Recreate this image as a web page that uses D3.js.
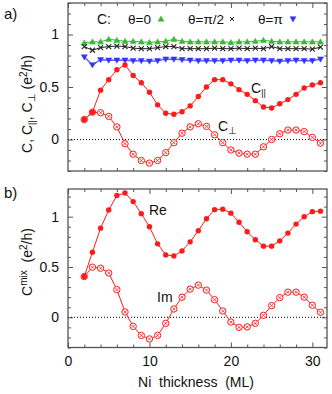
<!DOCTYPE html>
<html>
<head>
<meta charset="utf-8">
<script src="https://cdn.jsdelivr.net/npm/d3@7/dist/d3.min.js"></script>
<style>
  body { margin: 0; background: #fff; }
  svg text { font-family: "Liberation Sans", Arial, sans-serif; fill: #111; white-space: pre; }
</style>
</head>
<body>
<svg id="fig" width="332" height="394"></svg>
<script>
// Ni thickness (ML)
var thickness = [2,3,4,5,6,7,8,9,10,11,12,13,14,15,16,17,18,19,20,21,22,23,24,25,26,27,28,29,30,31];

// panel a) total conductance C for three angles
var cTheta0  = [0.92,0.93,0.93,0.955,0.945,0.935,0.935,0.93,0.925,0.93,0.935,0.955,0.935,0.93,0.93,0.93,0.93,0.93,0.925,0.93,0.93,0.935,0.945,0.935,0.93,0.93,0.93,0.93,0.93,0.93];
var cThetaHalf = [0.885,0.85,0.875,0.885,0.89,0.885,0.87,0.865,0.865,0.875,0.885,0.885,0.865,0.865,0.865,0.865,0.87,0.865,0.865,0.87,0.865,0.87,0.865,0.885,0.865,0.865,0.865,0.865,0.86,0.88];
var cThetaPi = [0.785,0.71,0.76,0.755,0.755,0.755,0.75,0.75,0.745,0.75,0.765,0.765,0.76,0.755,0.75,0.75,0.75,0.75,0.755,0.755,0.75,0.755,0.755,0.75,0.745,0.75,0.755,0.75,0.75,0.765];
// C parallel / C perpendicular
var cPar  = [0.19,0.26,0.47,0.57,0.665,0.71,0.61,0.54,0.45,0.33,0.25,0.24,0.265,0.32,0.41,0.50,0.57,0.57,0.53,0.475,0.43,0.37,0.31,0.30,0.34,0.38,0.43,0.49,0.52,0.54];
var cPerp = [0.19,0.26,0.255,0.22,0.12,-0.04,-0.14,-0.20,-0.225,-0.20,-0.125,-0.03,0.06,0.12,0.15,0.125,0.045,-0.03,-0.10,-0.13,-0.14,-0.14,-0.07,0.0,0.055,0.09,0.09,0.075,0.02,-0.035];

// panel b) mixing conductance
var mixRe = [0.405,0.647,0.886,1.066,1.21,1.235,1.15,1.03,0.90,0.73,0.62,0.61,0.66,0.75,0.86,0.98,1.07,1.075,1.035,0.945,0.85,0.77,0.707,0.707,0.76,0.837,0.926,1.0,1.05,1.055];
var mixIm = [0.405,0.498,0.488,0.44,0.275,0.053,-0.09,-0.18,-0.215,-0.18,-0.06,0.083,0.20,0.28,0.32,0.27,0.175,0.063,-0.047,-0.10,-0.095,-0.06,0.02,0.116,0.195,0.25,0.25,0.20,0.12,0.05];

var xTickLabels = [0,10,20,30];
var xMinorTicks = [2,4,6,8,12,14,16,18,22,24,26,28];
var yTickLabels = [0,0.5,1];
var yTickText = ["0","0.5","1"];

var RED = "#ff1a1a", GREEN = "#33bb33", BLUE = "#3333ff", BLACK = "#222";

var svg = d3.select("#fig");
var left = 68, right = 327;

var x = d3.scaleLinear().domain([0, 31.8]).range([left, right]);

function panel(top, bottom, yTop) {
  var y = d3.scaleLinear().domain([-0.3, yTop]).range([bottom, top]);
  var g = svg.append("g");
  var minor = d3.range(-3, Math.floor(yTop * 10) + 1).map(function (d) { return d / 10; })
    .filter(function (d) { return yTickLabels.indexOf(Math.round(d * 10) / 10) < 0; });

  // minor ticks, all four sides, pointing in
  g.append("g").attr("transform", "translate(" + left + ",0)")
    .call(d3.axisLeft(y).tickValues(minor).tickSize(-3).tickFormat(""));
  g.append("g").attr("transform", "translate(" + right + ",0)")
    .call(d3.axisRight(y).tickValues(minor).tickSize(-3).tickFormat(""));
  g.append("g").attr("transform", "translate(0," + bottom + ")")
    .call(d3.axisBottom(x).tickValues(xMinorTicks).tickSize(-3).tickFormat(""));
  g.append("g").attr("transform", "translate(0," + top + ")")
    .call(d3.axisTop(x).tickValues(xMinorTicks).tickSize(-3).tickFormat(""));
  // major ticks
  g.append("g").attr("class", "ylab").attr("transform", "translate(" + left + ",0)")
    .call(d3.axisLeft(y).tickValues(yTickLabels).tickSize(-5).tickPadding(9)
      .tickFormat(function (d, i) { return yTickText[i]; }));
  g.append("g").attr("transform", "translate(" + right + ",0)")
    .call(d3.axisRight(y).tickValues(yTickLabels).tickSize(-5).tickFormat(""));
  g.append("g").attr("transform", "translate(0," + top + ")")
    .call(d3.axisTop(x).tickValues(xTickLabels).tickSize(-5).tickFormat(""));

  g.selectAll(".domain").remove();
  g.selectAll(".tick line").attr("stroke", "#555").attr("stroke-width", 1);
  g.selectAll(".tick text").attr("font-size", 14).attr("fill", "#111")
    .style("font-family", '"Liberation Sans", Arial, sans-serif');

  // zero line
  g.append("line").attr("x1", left).attr("x2", right)
    .attr("y1", y(0)).attr("y2", y(0))
    .attr("stroke", "#000").attr("stroke-width", 1).attr("stroke-dasharray", "1,2");

  return { g: g, y: y, top: top, bottom: bottom };
}

function frame(p) {
  p.g.append("rect").attr("x", left).attr("y", p.top)
    .attr("width", right - left).attr("height", p.bottom - p.top)
    .attr("fill", "none").attr("stroke", "#555").attr("stroke-width", 1.3);
}

function lineOf(p, vals, color, w) {
  var ln = d3.line().x(function (d, i) { return x(thickness[i]); })
    .y(function (d) { return p.y(d); });
  p.g.append("path").datum(vals).attr("d", ln)
    .attr("fill", "none").attr("stroke", color).attr("stroke-width", w || 1);
}

function filledDots(p, vals, color) {
  p.g.append("g").selectAll("circle").data(vals).join("circle")
    .attr("cx", function (d, i) { return x(thickness[i]); })
    .attr("cy", function (d) { return p.y(d); })
    .attr("r", 2.7).attr("fill", color);
}

function openDots(p, vals, color) {
  var gg = p.g.append("g").selectAll("g").data(vals).join("g")
    .attr("transform", function (d, i) { return "translate(" + x(thickness[i]) + "," + p.y(d) + ")"; });
  gg.append("circle").attr("r", 3.2).attr("fill", "#fff")
    .attr("stroke", color).attr("stroke-width", 1);
  gg.append("path").attr("d", "M-1.5,-1.5L1.5,1.5M-1.5,1.5L1.5,-1.5")
    .attr("stroke", color).attr("stroke-width", 0.8);
}

function triUp(size) { return "M0," + (-size) + "L" + size + "," + (size * 0.75) + "L" + (-size) + "," + (size * 0.75) + "Z"; }
function triDown(size) { return "M0," + size + "L" + size + "," + (-size * 0.75) + "L" + (-size) + "," + (-size * 0.75) + "Z"; }
var crossPath = "M-2.5,-2.5L2.5,2.5M-2.5,2.5L2.5,-2.5";

function markers(p, vals, path, color, filled) {
  p.g.append("g").selectAll("path").data(vals).join("path")
    .attr("transform", function (d, i) { return "translate(" + x(thickness[i]) + "," + p.y(d) + ")"; })
    .attr("d", path)
    .attr("fill", filled ? color : "none")
    .attr("stroke", color).attr("stroke-width", filled ? 0.5 : 1.1);
}

/* ---------- panel a ---------- */
var pa = panel(3, 171, 1.3);
lineOf(pa, cTheta0, GREEN);
markers(pa, cTheta0, triUp(3), GREEN, true);
lineOf(pa, cThetaHalf, BLACK);
markers(pa, cThetaHalf, crossPath, BLACK, false);
lineOf(pa, cThetaPi, "#5a5aff", 1.4);
markers(pa, cThetaPi, triDown(3), BLUE, true);
lineOf(pa, cPerp, RED);
openDots(pa, cPerp, RED);
lineOf(pa, cPar, RED);
filledDots(pa, cPar, RED);
frame(pa);

// legend
var lg = pa.g.append("g");
lg.append("text").attr("x", 97).attr("y", 24).attr("font-size", 14).text("C:");
lg.append("text").attr("x", 128).attr("y", 24).attr("font-size", 13.5).text("θ=0");
lg.append("path").attr("transform", "translate(161,19)").attr("d", triUp(3)).attr("fill", GREEN).attr("stroke", GREEN).attr("stroke-width", 0.5);
lg.append("text").attr("x", 188).attr("y", 24).attr("font-size", 13.5).text("θ=π/2");
lg.append("path").attr("transform", "translate(232,19)").attr("d", "M-2,-2L2,2M-2,2L2,-2").attr("fill", "none").attr("stroke", BLACK).attr("stroke-width", 1);
lg.append("text").attr("x", 258).attr("y", 24).attr("font-size", 13.5).text("θ=π");
lg.append("path").attr("transform", "translate(293,19)").attr("d", triDown(3)).attr("fill", BLUE).attr("stroke", BLUE).attr("stroke-width", 0.5);

// curve labels
var tPar = pa.g.append("text").attr("x", 251).attr("y", 93).attr("font-size", 14);
tPar.append("tspan").text("C");
tPar.append("tspan").attr("dy", 3).attr("font-size", 9).text("||");
var tPerp = pa.g.append("text").attr("x", 218).attr("y", 131).attr("font-size", 14);
tPerp.append("tspan").text("C");
tPerp.append("tspan").attr("dy", 3).attr("font-size", 10).text("⊥");

// y label a
var yla = svg.append("text").attr("transform", "translate(32,104) rotate(-90)")
  .attr("text-anchor", "middle").attr("font-size", 14);
yla.append("tspan").text("C, C");
yla.append("tspan").attr("dy", 3).attr("font-size", 9).text("||");
yla.append("tspan").attr("dy", -3).text(", C");
yla.append("tspan").attr("dy", 3).attr("font-size", 10).text("⊥");
yla.append("tspan").attr("dy", -3).text(" (e");
yla.append("tspan").attr("dy", -5).attr("font-size", 10).text("2");
yla.append("tspan").attr("dy", 5).text("/h)");

svg.append("text").attr("x", 4).attr("y", 19).attr("font-size", 15).text("a)");

/* ---------- panel b ---------- */
var pb = panel(189, 347.5, 1.275);
pb.g.append("g").attr("transform", "translate(0,347.5)")
  .call(d3.axisBottom(x).tickValues(xTickLabels).tickSize(-5).tickPadding(9))
  .call(function (s) {
    s.select(".domain").remove();
    s.selectAll(".tick line").attr("stroke", "#555");
    s.selectAll(".tick text").attr("font-size", 14).attr("fill", "#111")
      .style("font-family", '"Liberation Sans", Arial, sans-serif');
  });
lineOf(pb, mixIm, RED);
openDots(pb, mixIm, RED);
lineOf(pb, mixRe, RED);
filledDots(pb, mixRe, RED);
frame(pb);

pb.g.append("text").attr("x", 149).attr("y", 215).attr("font-size", 14).text("Re");
pb.g.append("text").attr("x", 157).attr("y", 302).attr("font-size", 14).text("Im");

var ylb = svg.append("text").attr("transform", "translate(32,262) rotate(-90)")
  .attr("text-anchor", "middle").attr("font-size", 14);
ylb.append("tspan").text("C");
ylb.append("tspan").attr("dy", -5).attr("font-size", 10).text("mix");
ylb.append("tspan").attr("dy", 5).text("  (e");
ylb.append("tspan").attr("dy", -5).attr("font-size", 10).text("2");
ylb.append("tspan").attr("dy", 5).text("/h)");

svg.append("text").attr("x", 4).attr("y", 198).attr("font-size", 15).text("b)");

svg.append("text").attr("x", 196).attr("y", 387).attr("text-anchor", "middle")
  .attr("font-size", 14).text("Ni  thickness  (ML)");
</script>
</body>
</html>
